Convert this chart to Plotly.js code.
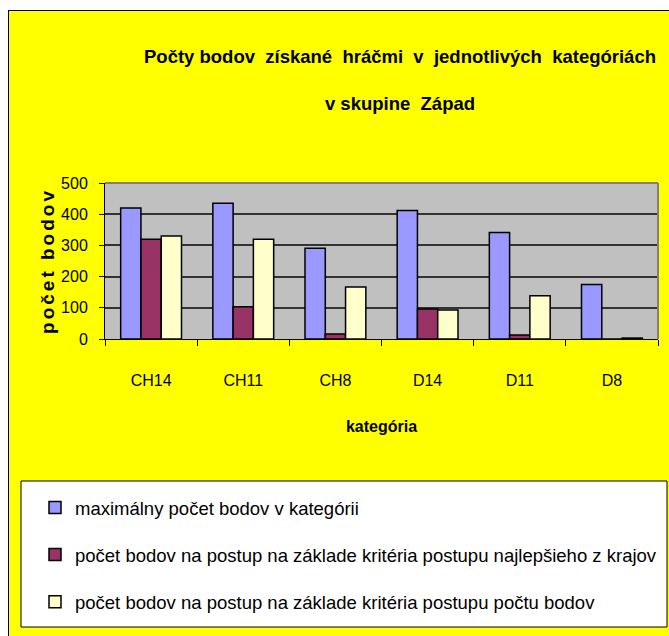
<!DOCTYPE html>
<html>
<head>
<meta charset="utf-8">
<script src="https://cdn.plot.ly/plotly-3.0.1.min.js"></script>
<style>
  html, body { margin: 0; padding: 0; background: #ffffff; overflow: hidden; width: 669px; height: 636px; }
  #chart { position: absolute; left: 8px; top: 10px; width: 661px; height: 626px;
           border-left: 1px solid #000; border-top: 1px solid #000; box-sizing: border-box; }
  .g-ytitle text { letter-spacing: 3px; }
</style>
</head>
<body>
<div id="chart"></div>
<script>
const categories = ["CH14", "CH11", "CH8", "D14", "D11", "D8"];
const seriesNames = [
  "maximálny počet bodov v kategórii",
  "počet bodov na postup na základe kritéria postupu najlepšieho z krajov",
  "počet bodov na postup na základe kritéria postupu počtu bodov"
];
const maxPoints = [420, 435, 291, 412, 341, 175];
const bestRegionPoints = [320, 103, 16, 96, 13, 0];
const pointCountPoints = [330, 320, 167, 93, 139, 3];
const yTicks = [0, 100, 200, 300, 400, 500];
const titleLine1 = "Počty bodov  získané  hráčmi  v  jednotlivých  kategóriách";
const titleLine2 = "v skupine  Západ";

const colors = ["#9999FF", "#993366", "#FFFFCC"];
const values = [maxPoints, bestRegionPoints, pointCountPoints];
const arial = '"Liberation Sans", Arial, sans-serif';

const traces = values.map((v, i) => ({
  type: "bar",
  x: categories,
  y: v,
  name: seriesNames[i],
  legendgroup: "g" + i,
  marker: { color: colors[i], line: { color: "#000", width: 1.5 } },
  hoverinfo: "x+y"
}));

const W = 660, H = 625;
const L = 96, R = 11, T = 172, B = 297;
const pw = W - L - R, ph = H - T - B;
const px = v => (v - L) / pw;
const py = v => (H - B - v) / ph;

const titleFont = { family: arial, size: 18.5, color: "#000", weight: "bold" };

const layout = {
  width: W, height: H,
  margin: { l: L, r: R, t: T, b: B, pad: 0, autoexpand: false },
  paper_bgcolor: "#FFFF00",
  plot_bgcolor: "#C0C0C0",
  barmode: "group",
  bargap: 0.34,
  bargroupgap: 0,
  title: {
    text: titleLine1,
    font: titleFont,
    subtitle: { text: titleLine2, font: titleFont },
    xref: "paper", x: px(391), xanchor: "center",
    yref: "container", y: 1 - 39 / H, yanchor: "top"
  },
  xaxis: {
    type: "category",
    showgrid: false,
    showline: true, linecolor: "#000", linewidth: 1,
    ticks: "outside", tickson: "boundaries", ticklen: 6, tickcolor: "#000", tickwidth: 1,
    ticklabelstandoff: 27,
    tickfont: { family: arial, size: 16, color: "#000" },
    title: { text: "kategória", font: { family: arial, size: 16, color: "#000", weight: "bold" }, standoff: 32 },
    fixedrange: true
  },
  yaxis: {
    range: [0, 500],
    tickvals: yTicks,
    ticktext: yTicks.map(String),
    showgrid: true, gridcolor: "#333", gridwidth: 1.5,
    zeroline: false,
    showline: true, linecolor: "#000", linewidth: 1,
    ticks: "outside", ticklen: 5, tickcolor: "#000",
    ticklabelstandoff: 8,
    tickfont: { family: arial, size: 16, color: "#000" },
    title: { text: "počet bodov", font: { family: arial, size: 19, color: "#000", weight: "bold" }, standoff: 1 },
    fixedrange: true
  },
  shapes: [
    { type: "line", xref: "paper", yref: "paper", x0: 0, x1: 1, y0: 1, y1: 1, line: { color: "#808080", width: 2 } },
    { type: "line", xref: "paper", yref: "paper", x0: 1, x1: 1, y0: 0, y1: 1, line: { color: "#808080", width: 2 } },
    { type: "rect", xref: "paper", yref: "paper", layer: "below",
      x0: px(12), x1: px(658), y0: py(470), y1: py(616),
      fillcolor: "#FFFFFF", line: { color: "#000", width: 1 } }
  ],
  showlegend: true,
  legend: {
    orientation: "v",
    traceorder: "grouped",
    tracegroupgap: 20,
    x: px(26), xanchor: "left",
    y: py(478), yanchor: "top",
    bgcolor: "rgba(0,0,0,0)",
    borderwidth: 0,
    font: { family: arial, size: 18.5, color: "#000" },
    itemclick: false, itemdoubleclick: false
  }
};

Plotly.newPlot("chart", traces, layout, { displayModeBar: false });
</script>
</body>
</html>
